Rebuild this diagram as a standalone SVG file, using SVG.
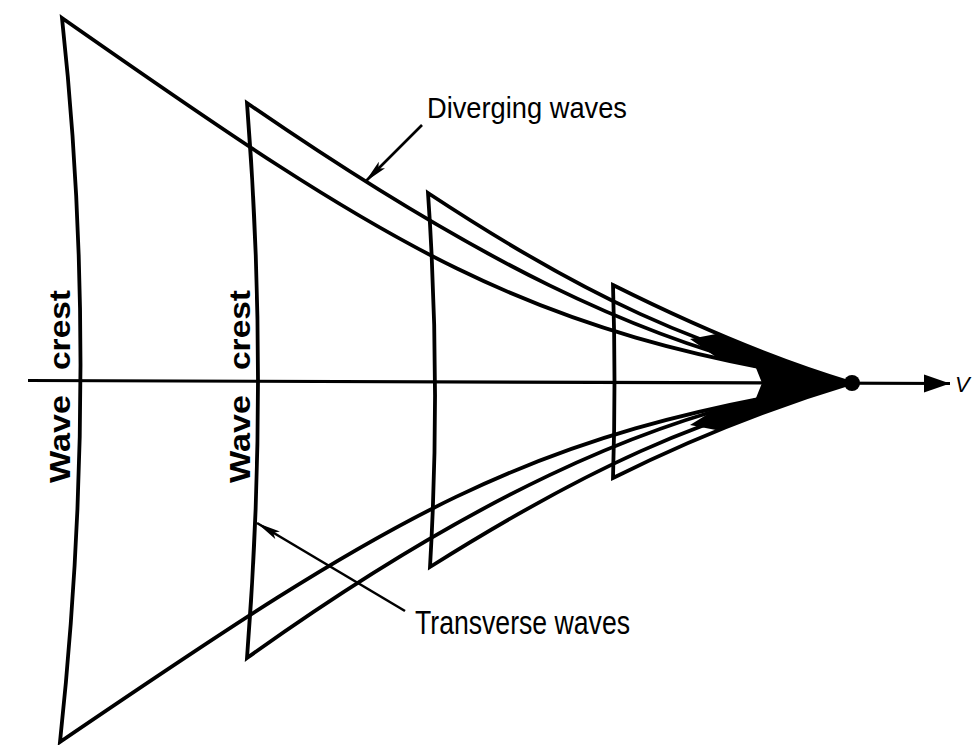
<svg xmlns="http://www.w3.org/2000/svg" width="974" height="745" viewBox="0 0 974 745">
  <style>
    .wave { fill: none; stroke: #000; stroke-width: 3.8; stroke-linejoin: miter; stroke-miterlimit: 6; }
    .axis { fill: none; stroke: #000; stroke-width: 3.2; }
    .ptr { fill: none; stroke: #000; stroke-width: 2.6; }
    .lbl { font-family: "Liberation Sans", Arial, sans-serif; fill: #000; }
  </style>
  <defs>
    <marker id="ptrhead" markerUnits="userSpaceOnUse" markerWidth="26" markerHeight="12" refX="24" refY="5" orient="auto">
      <path d="M0,0.5 L24,5 L0,9.5 L5,5 Z" fill="#000"/>
    </marker>
    <marker id="axishead" markerUnits="userSpaceOnUse" markerWidth="28" markerHeight="20" refX="26" refY="9" orient="auto">
      <path d="M0,0 L26,9 L0,18 Z" fill="#000"/>
    </marker>
  </defs>
  <rect x="0" y="0" width="974" height="745" fill="#fff"/>

  <g id="axis">
    <line class="axis" x1="28" y1="380.5" x2="950" y2="383.5" marker-end="url(#axishead)"/>
    <text class="lbl" x="955" y="392" font-size="22" font-style="italic">V</text>
  </g>

  <g id="crest-1">
    <path class="wave" d="M852,383 C522,333.5 392,249 62,18 Q100,368 60,742 C390,517.6 522,432.5 852,383"/>
  </g>
  <g id="crest-2">
    <path class="wave" d="M852,383 C652,358 447,241 247,103 Q269,380 247,658 C447,515 652,405 852,383"/>
  </g>
  <g id="crest-3">
    <path class="wave" d="M852,383 C702,353 578,292 428,193 Q441,380 430,567 C578,474 702,413 852,383"/>
  </g>
  <g id="crest-4">
    <path class="wave" d="M852,383 C772,359 693,325 613,285 Q616,381 613,478 C693,438 772,407 852,383"/>
  </g>

  <g id="ship-point">
    <path d="M690,339 L716,334 L733,340 L760,351 L792,363 L822,374 L852,383 L822,392 L792,402 L760,413 L733,424.5 L716,430 L690,425 L716,409 L740,403 L756,398 L762,383 L756,368 L740,363 L716,357 Z" fill="#000"/>
    <circle cx="852" cy="383" r="8" fill="#000"/>
  </g>

  <g id="connectors">
    <line class="ptr" x1="422" y1="125" x2="365" y2="182" marker-end="url(#ptrhead)"/>
    <line class="ptr" x1="405" y1="611" x2="257" y2="523" marker-end="url(#ptrhead)"/>
  </g>

  <g id="labels">
    <text class="lbl" x="427" y="118" font-size="30" textLength="200" lengthAdjust="spacingAndGlyphs">Diverging waves</text>
    <text class="lbl" x="415" y="634" font-size="33" textLength="215" lengthAdjust="spacingAndGlyphs">Transverse waves</text>
    <text class="lbl" transform="rotate(-90)" font-size="30" font-weight="bold">
      <tspan x="-483" y="70" textLength="88" lengthAdjust="spacingAndGlyphs">Wave</tspan>
      <tspan x="-370" y="70" textLength="80" lengthAdjust="spacingAndGlyphs">crest</tspan>
    </text>
    <text class="lbl" transform="rotate(-90)" font-size="30" font-weight="bold">
      <tspan x="-483" y="250" textLength="88" lengthAdjust="spacingAndGlyphs">Wave</tspan>
      <tspan x="-370" y="250" textLength="80" lengthAdjust="spacingAndGlyphs">crest</tspan>
    </text>
  </g>
</svg>
